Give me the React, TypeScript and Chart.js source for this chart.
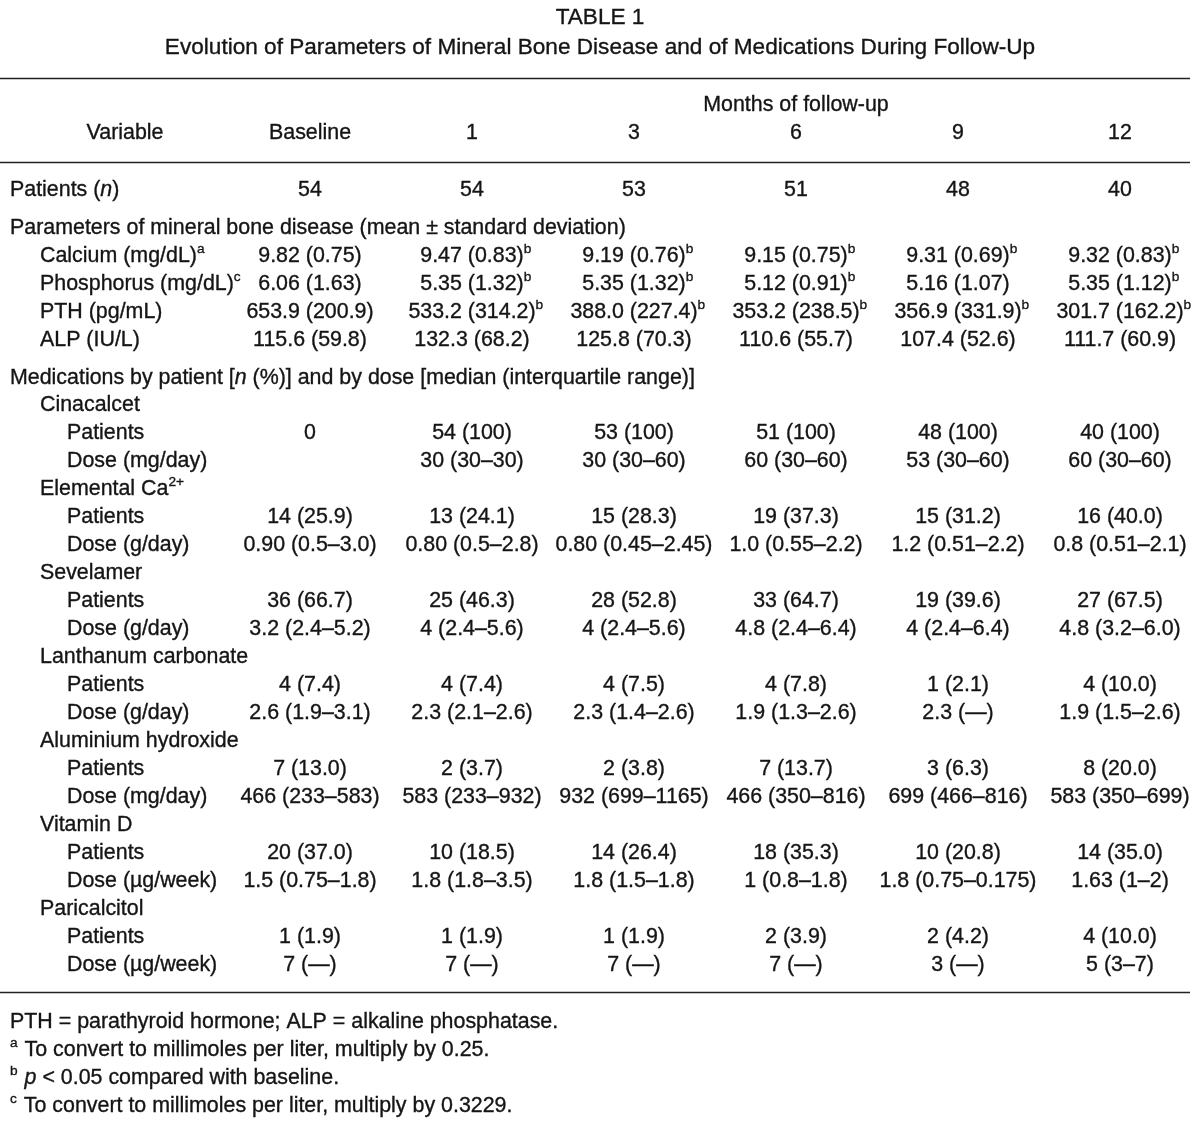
import React, { useEffect, useRef } from 'react';
import { Chart, registerables } from 'chart.js';
Chart.register(...registerables);

// ---------- content ----------
const TITLE = 'TABLE 1';
const SUBTITLE = 'Evolution of Parameters of Mineral Bone Disease and of Medications During Follow-Up';
const SPAN_HEADER = 'Months of follow-up';
const VARIABLE_HEADER = 'Variable';
const columns = ['Baseline', '1', '3', '6', '9', '12'];

const patientsN = ['54', '54', '53', '51', '48', '40'];

const calcium = ['9.82 (0.75)', '9.47 (0.83)^b', '9.19 (0.76)^b', '9.15 (0.75)^b', '9.31 (0.69)^b', '9.32 (0.83)^b'];
const phosphorus = ['6.06 (1.63)', '5.35 (1.32)^b', '5.35 (1.32)^b', '5.12 (0.91)^b', '5.16 (1.07)', '5.35 (1.12)^b'];
const pth = ['653.9 (200.9)', '533.2 (314.2)^b', '388.0 (227.4)^b', '353.2 (238.5)^b', '356.9 (331.9)^b', '301.7 (162.2)^b'];
const alp = ['115.6 (59.8)', '132.3 (68.2)', '125.8 (70.3)', '110.6 (55.7)', '107.4 (52.6)', '111.7 (60.9)'];

const cinacalcetPatients = ['0', '54 (100)', '53 (100)', '51 (100)', '48 (100)', '40 (100)'];
const cinacalcetDose = ['', '30 (30–30)', '30 (30–60)', '60 (30–60)', '53 (30–60)', '60 (30–60)'];
const calciumPatients = ['14 (25.9)', '13 (24.1)', '15 (28.3)', '19 (37.3)', '15 (31.2)', '16 (40.0)'];
const calciumDose = ['0.90 (0.5–3.0)', '0.80 (0.5–2.8)', '0.80 (0.45–2.45)', '1.0 (0.55–2.2)', '1.2 (0.51–2.2)', '0.8 (0.51–2.1)'];
const sevelamerPatients = ['36 (66.7)', '25 (46.3)', '28 (52.8)', '33 (64.7)', '19 (39.6)', '27 (67.5)'];
const sevelamerDose = ['3.2 (2.4–5.2)', '4 (2.4–5.6)', '4 (2.4–5.6)', '4.8 (2.4–6.4)', '4 (2.4–6.4)', '4.8 (3.2–6.0)'];
const lanthanumPatients = ['4 (7.4)', '4 (7.4)', '4 (7.5)', '4 (7.8)', '1 (2.1)', '4 (10.0)'];
const lanthanumDose = ['2.6 (1.9–3.1)', '2.3 (2.1–2.6)', '2.3 (1.4–2.6)', '1.9 (1.3–2.6)', '2.3 (—)', '1.9 (1.5–2.6)'];
const aluminiumPatients = ['7 (13.0)', '2 (3.7)', '2 (3.8)', '7 (13.7)', '3 (6.3)', '8 (20.0)'];
const aluminiumDose = ['466 (233–583)', '583 (233–932)', '932 (699–1165)', '466 (350–816)', '699 (466–816)', '583 (350–699)'];
const vitaminDPatients = ['20 (37.0)', '10 (18.5)', '14 (26.4)', '18 (35.3)', '10 (20.8)', '14 (35.0)'];
const vitaminDDose = ['1.5 (0.75–1.8)', '1.8 (1.8–3.5)', '1.8 (1.5–1.8)', '1 (0.8–1.8)', '1.8 (0.75–0.175)', '1.63 (1–2)'];
const paricalcitolPatients = ['1 (1.9)', '1 (1.9)', '1 (1.9)', '2 (3.9)', '2 (4.2)', '4 (10.0)'];
const paricalcitolDose = ['7 (—)', '7 (—)', '7 (—)', '7 (—)', '3 (—)', '5 (3–7)'];

const footnotes = [
  'PTH = parathyroid hormone; ALP = alkaline phosphatase.',
  '^a To convert to millimoles per liter, multiply by 0.25.',
  '^b *p* < 0.05 compared with baseline.',
  '^c To convert to millimoles per liter, multiply by 0.3229.',
];

// ---------- style / layout ----------
const FAMILY = '"Liberation Sans", Arial, sans-serif';
const FS = 21.4;
const TITLE_FS = 22.6;
const SUP_RATIO = 0.64;
const COLOR = '#151515';
const PX_PER_COL = 162;
const PX_PER_LINE = 28;
const W = 1200;
const H = 1126;
const X_MIN = 1 - 310 / PX_PER_COL;
const X_MAX = X_MIN + W / PX_PER_COL;
const Y_MAX = H / PX_PER_LINE;
const VARIABLE_X = 1 - (310 - 125) / PX_PER_COL;
const INDENTS = [10, 40, 67];

type Row = { label: string; indent: number; values?: string[]; step: number };

const drugRows = (name: string, doseLabel: string, p: string[], d: string[]): Row[] => [
  { label: name, indent: 1, step: 1 },
  { label: 'Patients', indent: 2, values: p, step: 1 },
  { label: doseLabel, indent: 2, values: d, step: 1 },
];

const bodyRows: Row[] = [
  { label: 'Patients (*n*)', indent: 0, values: patientsN, step: 1 },
  { label: 'Parameters of mineral bone disease (mean ± standard deviation)', indent: 0, step: 1.36 },
  { label: 'Calcium (mg/dL)^a', indent: 1, values: calcium, step: 1 },
  { label: 'Phosphorus (mg/dL)^c', indent: 1, values: phosphorus, step: 1 },
  { label: 'PTH (pg/mL)', indent: 1, values: pth, step: 1 },
  { label: 'ALP (IU/L)', indent: 1, values: alp, step: 1 },
  { label: 'Medications by patient [*n* (%)] and by dose [median (interquartile range)]', indent: 0, step: 1.36 },
  ...drugRows('Cinacalcet', 'Dose (mg/day)', cinacalcetPatients, cinacalcetDose).map((r, i) => (i === 0 ? { ...r, step: 0.96 } : r)),
  ...drugRows('Elemental Ca^2+', 'Dose (g/day)', calciumPatients, calciumDose),
  ...drugRows('Sevelamer', 'Dose (g/day)', sevelamerPatients, sevelamerDose),
  ...drugRows('Lanthanum carbonate', 'Dose (g/day)', lanthanumPatients, lanthanumDose),
  ...drugRows('Aluminium hydroxide', 'Dose (mg/day)', aluminiumPatients, aluminiumDose),
  ...drugRows('Vitamin D', 'Dose (µg/week)', vitaminDPatients, vitaminDDose),
  ...drugRows('Paricalcitol', 'Dose (µg/week)', paricalcitolPatients, paricalcitolDose),
];

type Seg = { t: string; sup: boolean; it: boolean };

function parse(s: string): Seg[] {
  const segs: Seg[] = [];
  let i = 0;
  let buf = '';
  let it = false;
  const flush = (sup = false) => {
    if (buf) segs.push({ t: buf, sup, it });
    buf = '';
  };
  while (i < s.length) {
    const c = s[i];
    if (c === '^') {
      flush();
      let j = i + 1;
      while (j < s.length && s[j] !== ' ') j++;
      buf = s.slice(i + 1, j);
      flush(true);
      i = j;
    } else if (c === '*') {
      flush();
      it = !it;
      i++;
    } else {
      buf += c;
      i++;
    }
  }
  flush();
  return segs;
}

function fontFor(seg: Seg, size: number) {
  return `${seg.it ? 'italic ' : ''}${seg.sup ? size * SUP_RATIO : size}px ${FAMILY}`;
}

function drawRich(ctx: CanvasRenderingContext2D, s: string, x: number, y: number, align: 'left' | 'center', size = FS) {
  const segs = parse(s);
  const widths = segs.map((g) => {
    ctx.font = fontFor(g, size);
    return ctx.measureText(g.t).width;
  });
  let mainW = 0;
  let lastMain = segs.length - 1;
  while (lastMain >= 0 && segs[lastMain].sup) lastMain--;
  for (let k = 0; k <= lastMain; k++) mainW += widths[k];
  let cx = align === 'center' ? x - mainW / 2 : x;
  segs.forEach((g, k) => {
    ctx.font = fontFor(g, size);
    const yy = g.sup ? y - size * 0.33 : y;
    ctx.fillText(g.t, cx, yy);
    ctx.strokeText(g.t, cx, yy);
    cx += widths[k] + (g.sup ? 1 : 0);
  });
}

const tablePlugin = {
  id: 'tableText',
  beforeDraw(chart: any) {
    const { ctx } = chart;
    ctx.save();
    ctx.fillStyle = '#ffffff';
    ctx.fillRect(0, 0, chart.width, chart.height);
    ctx.restore();
  },
  afterDraw(chart: any) {
    const { ctx, chartArea } = chart;
    const xs = chart.scales.x;
    const ys = chart.scales.y;
    ctx.save();
    ctx.fillStyle = COLOR;
    ctx.textBaseline = 'middle';
    const centerX = (chartArea.left + chartArea.right) / 2;
    const rule = (v: number) => {
      const py = Math.round(ys.getPixelForValue(v)) + 0.5;
      ctx.save();
      ctx.strokeStyle = '#222222';
      ctx.lineWidth = 1.6;
      ctx.beginPath();
      ctx.moveTo(chartArea.left, py);
      ctx.lineTo(chartArea.right - 10, py);
      ctx.stroke();
      ctx.restore();
    };
    ctx.strokeStyle = COLOR;
    ctx.lineWidth = 0.35;
    // title block
    drawRich(ctx, TITLE, centerX, ys.getPixelForValue(0.64), 'center', TITLE_FS);
    drawRich(ctx, SUBTITLE, centerX, ys.getPixelForValue(1.71), 'center', TITLE_FS);
    rule(2.79);
    drawRich(ctx, SPAN_HEADER, xs.getPixelForValue(4), ys.getPixelForValue(3.75), 'center');
    const hy = ys.getPixelForValue(4.75);
    drawRich(ctx, VARIABLE_HEADER, xs.getPixelForValue(VARIABLE_X), hy, 'center');
    columns.forEach((c, i) => drawRich(ctx, c, xs.getPixelForValue(i + 1), hy, 'center'));
    rule(5.79);
    let yv = 5.79;
    bodyRows.forEach((r) => {
      yv += r.step;
      const py = ys.getPixelForValue(yv);
      drawRich(ctx, r.label, chartArea.left + INDENTS[r.indent], py, 'left');
      if (r.values) r.values.forEach((v, i) => v && drawRich(ctx, v, xs.getPixelForValue(i + 1), py, 'center'));
    });
    yv += 0.97;
    rule(yv);
    yv += 1.07;
    footnotes.forEach((f, i) => {
      drawRich(ctx, f, chartArea.left + INDENTS[0], ys.getPixelForValue(yv + i), 'left');
    });
    ctx.restore();
  },
};

export default function App() {
  const ref = useRef<HTMLCanvasElement | null>(null);
  useEffect(() => {
    document.body.style.margin = '0';
    const canvas = ref.current!;
    const chart = new Chart(canvas, {
      type: 'scatter',
      data: { datasets: [] },
      options: {
        animation: false,
        responsive: false,
        devicePixelRatio: 1,
        layout: { padding: 0 },
        plugins: { legend: { display: false }, tooltip: { enabled: false } },
        scales: {
          x: { type: 'linear', min: X_MIN, max: X_MAX, display: false },
          y: { type: 'linear', min: 0, max: Y_MAX, reverse: true, display: false },
        },
      },
      plugins: [tablePlugin],
    } as any);
    return () => chart.destroy();
  }, []);
  return <canvas ref={ref} width={W} height={H} style={{ display: 'block' }} />;
}
